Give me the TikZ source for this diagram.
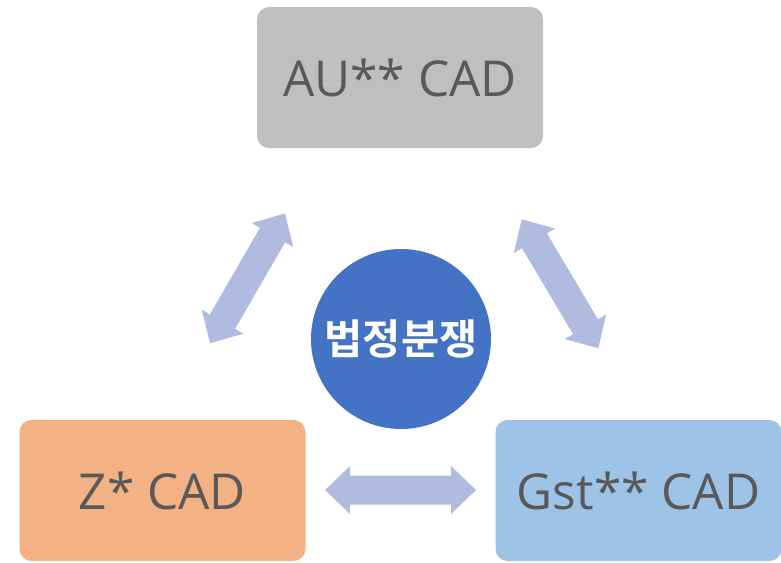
\documentclass[tikz,border=0pt]{standalone}
\usepackage{fontspec}
\setmainfont{Open Sans}
\newfontfamily\krfont{Noto Sans CJK KR}[BoldFont={* Bold}]
\definecolor{boxgrey}{HTML}{BFBFBF}
\definecolor{boxorange}{HTML}{F4B183}
\definecolor{boxblue}{HTML}{9DC3E6}
\definecolor{circblue}{HTML}{4472C4}
\definecolor{arrowc}{HTML}{AFBCDF}
\definecolor{txtgrey}{HTML}{595959}
\tikzset{
  cadbox/.style={rectangle, rounded corners=12pt, minimum width=286pt, minimum height=141pt,
    inner sep=0pt, text=txtgrey, font=\fontsize{49.5}{52}\selectfont},
  pics/dblarrow/.style={code={
    \fill[arrowc] (0,0) -- (25,24) -- (25,14.5) -- ({#1-25},14.5) -- ({#1-25},24) -- (#1,0)
      -- ({#1-25},-24) -- ({#1-25},-14.5) -- (25,-14.5) -- (25,-24) -- cycle;}}
}
\begin{document}
\begin{tikzpicture}[x=1pt,y=-1pt]
\useasboundingbox (0,0) rectangle (781,562);
\node[cadbox, fill=boxgrey] (au) at (400,77.5) {AU** CAD};
\node[cadbox, fill=boxorange] (z) at (162.5,490.5) {Z* CAD};
\node[cadbox, fill=boxblue] (gst) at (638.5,490.5) {Gst** CAD};
\node[circle, fill=circblue, minimum size=180pt, inner sep=0pt, text=white,
  font=\krfont\bfseries\fontsize{41.5}{44}\selectfont] (center) at (401,339) {법정분쟁};
\pic[rotate=60] (arrL) at (210,343.3) {dblarrow=150};
\pic[rotate=-59.3] (arrR) at (521.7,219.3) {dblarrow=150};
\pic (arrB) at (325,490) {dblarrow=151};
\end{tikzpicture}
\end{document}
